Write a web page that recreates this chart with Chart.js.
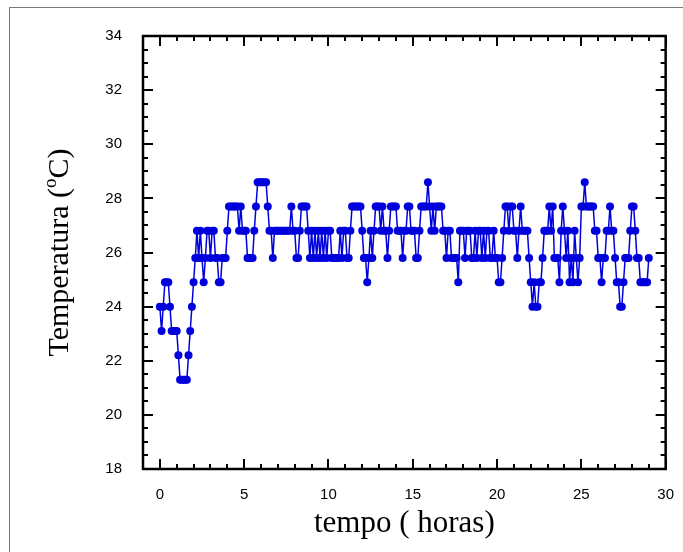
<!DOCTYPE html>
<html>
<head>
<meta charset="utf-8">
<script src="https://cdn.jsdelivr.net/npm/chart.js@4/dist/chart.umd.min.js"></script>
<style>
  html, body { margin: 0; padding: 0; background: #fff; overflow: hidden; }
  #wrap { position: relative; width: 683px; height: 552px; }
  #frame { position: absolute; left: 9px; top: 7px; width: 720px; height: 600px;
           border-left: 1.5px solid #7a7a7a; border-top: 1.5px solid #7a7a7a; }
  #grafico { position: absolute; left: 0; top: 0; }
</style>
</head>
<body>
<div id="wrap">
  <div id="frame"></div>
  <canvas id="grafico" width="683" height="552"></canvas>
</div>
<script>
/* ===== DADOS ===== */
const intervalo = 0.1; // horas entre leituras

// temperatura (oC), uma linha por hora
const temperatura = [
  24.0, 23.1, 24.0, 24.9, 24.9, 24.9, 24.0, 23.1, 23.1, 23.1,
  23.1, 22.2, 21.3, 21.3, 21.3, 21.3, 21.3, 22.2, 23.1, 24.0,
  24.9, 25.8, 26.8, 25.8, 26.8, 25.8, 24.9, 25.8, 26.8, 26.8,
  25.8, 26.8, 26.8, 25.8, 25.8, 24.9, 24.9, 25.8, 25.8, 25.8,
  26.8, 27.7, 27.7, 27.7, 27.7, 27.7, 27.7, 26.8, 27.7, 26.8,
  26.8, 26.8, 25.8, 25.8, 25.8, 25.8, 26.8, 27.7, 28.6, 28.6,
  28.6, 28.6, 28.6, 28.6, 27.7, 26.8, 26.8, 25.8, 26.8, 26.8,
  26.8, 26.8, 26.8, 26.8, 26.8, 26.8, 26.8, 26.8, 27.7, 26.8,
  26.8, 25.8, 25.8, 26.8, 27.7, 27.7, 27.7, 27.7, 26.8, 25.8,
  26.8, 25.8, 26.8, 25.8, 26.8, 25.8, 26.8, 25.8, 26.8, 25.8,
  26.8, 26.8, 25.8, 25.8, 25.8, 25.8, 25.8, 26.8, 25.8, 26.8,
  26.8, 25.8, 25.8, 26.8, 27.7, 27.7, 27.7, 27.7, 27.7, 27.7,
  26.8, 25.8, 25.8, 24.9, 25.8, 26.8, 25.8, 26.8, 27.7, 27.7,
  27.7, 26.8, 27.7, 26.8, 26.8, 25.8, 26.8, 27.7, 27.7, 27.7,
  27.7, 26.8, 26.8, 26.8, 25.8, 26.8, 26.8, 27.7, 27.7, 26.8,
  26.8, 26.8, 25.8, 25.8, 26.8, 27.7, 27.7, 27.7, 27.7, 28.6,
  27.7, 26.8, 27.7, 26.8, 27.7, 27.7, 27.7, 27.7, 26.8, 26.8,
  25.8, 26.8, 26.8, 25.8, 25.8, 25.8, 25.8, 24.9, 26.8, 26.8,
  26.8, 25.8, 26.8, 26.8, 26.8, 25.8, 25.8, 26.8, 25.8, 26.8,
  26.8, 25.8, 26.8, 25.8, 26.8, 26.8, 25.8, 25.8, 26.8, 25.8,
  25.8, 24.9, 24.9, 25.8, 26.8, 27.7, 27.7, 26.8, 27.7, 27.7,
  26.8, 26.8, 25.8, 26.8, 27.7, 26.8, 26.8, 26.8, 26.8, 25.8,
  24.9, 24.0, 24.9, 24.0, 24.0, 24.9, 24.9, 25.8, 26.8, 26.8,
  26.8, 27.7, 26.8, 27.7, 25.8, 25.8, 25.8, 24.9, 26.8, 27.7,
  26.8, 25.8, 26.8, 24.9, 25.8, 24.9, 26.8, 25.8, 24.9, 25.8,
  27.7, 27.7, 28.6, 27.7, 27.7, 27.7, 27.7, 27.7, 26.8, 26.8,
  25.8, 25.8, 24.9, 25.8, 25.8, 26.8, 26.8, 27.7, 26.8, 26.8,
  25.8, 24.9, 24.9, 24.0, 24.0, 24.9, 25.8, 25.8, 25.8, 26.8,
  27.7, 27.7, 26.8, 25.8, 25.8, 24.9, 24.9, 24.9, 24.9, 24.9,
  25.8
];

const xTicks = [0, 5, 10, 15, 20, 25, 30];
const yTicks = [18, 20, 22, 24, 26, 28, 30, 32, 34];

const azul = "#0000dd";

const pontos = temperatura.map((t, i) => ({ x: +(i * intervalo).toFixed(2), y: t }));

/* ===== MOLDURA, TICKS E TITULOS ===== */
const moldura = {
  id: "moldura",
  afterDraw(chart) {
    const { ctx, chartArea: a, scales: { x, y } } = chart;
    ctx.save();
    ctx.strokeStyle = "#000";
    ctx.lineWidth = 2;
    ctx.beginPath();
    // ticks x (para dentro, em baixo e em cima)
    for (let v = xTicks[0]; v <= xTicks[xTicks.length - 1]; v += 1) {
      const px = Math.round(x.getPixelForValue(v));
      const len = v % 5 === 0 ? 10 : 5;
      ctx.moveTo(px, a.bottom); ctx.lineTo(px, a.bottom - len);
      ctx.moveTo(px, a.top); ctx.lineTo(px, a.top + len);
    }
    // ticks y (esquerda e direita)
    for (let k = yTicks[0] * 2; k <= yTicks[yTicks.length - 1] * 2; k++) {
      const v = k / 2;
      const py = Math.round(y.getPixelForValue(v));
      const len = v % 2 === 0 ? 10 : 5;
      ctx.moveTo(a.left, py); ctx.lineTo(a.left + len, py);
      ctx.moveTo(a.right, py); ctx.lineTo(a.right - len, py);
    }
    ctx.stroke();
    ctx.lineWidth = 2.5;
    ctx.strokeRect(a.left, a.top, a.right - a.left, a.bottom - a.top);

    // titulo eixo x
    ctx.fillStyle = "#000";
    ctx.font = '31px "Liberation Serif"';
    ctx.textAlign = "center";
    ctx.textBaseline = "alphabetic";
    ctx.fillText("tempo ( horas)", (a.left + a.right) / 2, 532);

    // titulo eixo y com expoente
    const p1 = "Temperatura (", p2 = "o", p3 = "C)";
    ctx.translate(60, (a.top + a.bottom) / 2);
    ctx.rotate(-Math.PI / 2);
    ctx.textAlign = "left";
    ctx.font = '30px "Liberation Serif"';
    const w1 = ctx.measureText(p1).width, w3 = ctx.measureText(p3).width;
    ctx.font = '19px "Liberation Serif"';
    const w2 = ctx.measureText(p2).width;
    let sx = -(w1 + w2 + w3) / 2;
    ctx.font = '30px "Liberation Serif"';
    ctx.fillText(p1, sx, 8);
    ctx.font = '19px "Liberation Serif"';
    ctx.fillText(p2, sx + w1, -4);
    ctx.font = '30px "Liberation Serif"';
    ctx.fillText(p3, sx + w1 + w2, 8);
    ctx.restore();
  },
};

new Chart(document.getElementById("grafico"), {
  type: "line",
  data: {
    datasets: [
      {
        data: pontos,
        borderColor: azul,
        backgroundColor: azul,
        borderWidth: 1.5,
        pointRadius: 4,
        pointBorderWidth: 0,
        pointHoverRadius: 4,
        tension: 0,
      },
    ],
  },
  options: {
    responsive: false,
    animation: false,
    layout: { padding: { top: 36, right: 15, left: 0, bottom: 0 } },
    plugins: { legend: { display: false }, tooltip: { enabled: false } },
    scales: {
      x: {
        type: "linear",
        min: -1,
        max: 30,
        afterBuildTicks: (s) => { s.ticks = xTicks.map((v) => ({ value: v })); },
        afterFit: (s) => { s.height = 83; },
        grid: { display: false },
        border: { display: false },
        ticks: { color: "#000", padding: 9, maxRotation: 0, font: { family: "Liberation Sans", size: 15 } },
      },
      y: {
        min: 18,
        max: 34,
        afterBuildTicks: (s) => { s.ticks = yTicks.map((v) => ({ value: v })); },
        afterFit: (s) => { s.width = 143; },
        grid: { display: false },
        border: { display: false },
        ticks: { color: "#000", padding: 13, font: { family: "Liberation Sans", size: 15 } },
      },
    },
  },
  plugins: [moldura],
});
</script>
</body>
</html>
